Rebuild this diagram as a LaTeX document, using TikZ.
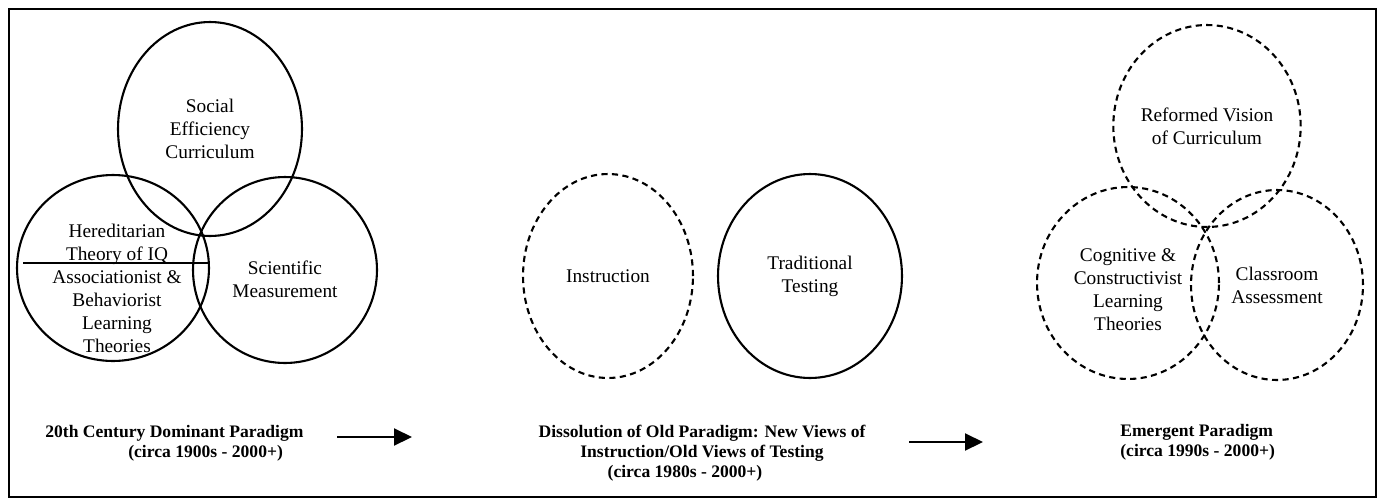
\documentclass[tikz,border=0pt]{standalone}
\usepackage{fontspec}
\setmainfont{Liberation Serif}
\usetikzlibrary{shapes.geometric,arrows.meta}

\begin{document}
\begin{tikzpicture}[x=0.02cm, y=-0.02cm,
  ring/.style={ellipse, draw=black, line width=1.2pt, inner sep=0pt,
               align=center, font=\fontsize{11}{13.1}\selectfont},
  dring/.style={ring, dash pattern=on 3.5pt off 2.5pt},
  txt/.style={align=center, font=\fontsize{11}{13.1}\selectfont, inner sep=0pt},
  paralbl/.style={align=center, font=\fontsize{10}{11.5}\selectfont\bfseries, inner sep=0pt},
  arr/.style={-{Triangle[length=0.36cm,width=0.34cm]}, line width=1.2pt}
]
\useasboundingbox (0,0) rectangle (1380,501);
\draw[line width=0.8pt] (9,9) rectangle (1376,497);

% dominant paradigm
\node[ring, minimum width=3.68cm, minimum height=4.28cm](soc) at (210,129) {Social\\Efficiency\\Curriculum};
\node[ring, minimum width=3.84cm, minimum height=3.72cm](her) at (113,268) {};
\node[ring, minimum width=3.68cm, minimum height=3.72cm](sci) at (285,270) {};
\draw[line width=1.2pt]([yshift=1mm,xshift=1.5mm]her.west)--([yshift=1mm]her.east);
\node[txt](hertxt) at (117,244) {Hereditarian\\Theory of IQ};
\node[txt](asstxt) at (117,312) {Associationist \&\\Behaviorist\\Learning\\Theories};
\node[txt](scitxt) at (285,279) {Scientific\\Measurement};

% dissolution
\node[dring, minimum width=3.4cm, minimum height=4.08cm](ins) at (608,276) {Instruction};
\node[ring, minimum width=3.68cm, minimum height=4.08cm](trad) at (810,276) {Traditional\\Testing};

% emergent paradigm
\node[dring, minimum width=3.44cm, minimum height=4.04cm](ref) at (1207,126) {Reformed Vision\\of Curriculum};
\node[dring, minimum width=3.64cm, minimum height=3.84cm](cog) at (1128,283) {};
\node[dring, minimum width=3.44cm, minimum height=3.8cm](cla) at (1277,285) {Classroom\\Assessment};
\node[txt](cogtxt) at (1128,290) {Cognitive \&\\Constructivist\\Learning\\Theories};

% captions
\node[paralbl, anchor=west, align=left](old) at (45,443) {20th Century Dominant Paradigm\\\hspace*{1.66cm}(circa 1900s - 2000+)};
\node[paralbl](dis) at (702,453) {Dissolution of Old Paradigm: New Views of\\Instruction/Old Views of Testing\\(circa 1980s - 2000+)\hspace*{0.68cm}};
\node[paralbl, anchor=west, align=left](emg) at (1120,442) {Emergent Paradigm\\(circa 1990s - 2000+)};

\coordinate (a1s) at (337,437);
\coordinate (a1e) at (412,437);
\coordinate (a2s) at (909,442);
\coordinate (a2e) at (983,442);
\draw[arr](a1s)--(a1e);
\draw[arr](a2s)--(a2e);
\end{tikzpicture}
\end{document}
